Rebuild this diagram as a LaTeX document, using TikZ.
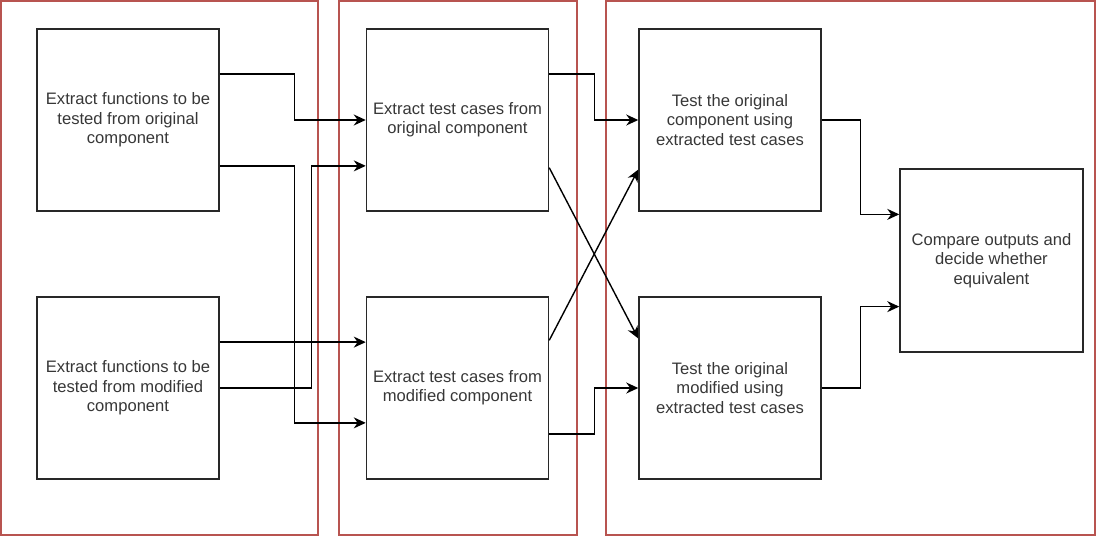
\documentclass[tikz,border=0pt]{standalone}
\usepackage{fontspec}
\setmainfont{Liberation Sans}
\usetikzlibrary{arrows.meta,calc}
\definecolor{framered}{RGB}{184,84,80}
\definecolor{boxline}{RGB}{40,40,40}
\definecolor{boxtext}{RGB}{55,55,55}
\begin{document}
\begin{tikzpicture}[x=1pt,y=-1pt,
	stepbox/.style={draw=boxline,line width=1.5pt,minimum width=182pt,minimum height=182pt,
		inner sep=0pt,align=center,text=boxtext,font=\fontsize{16.6}{19.3}\selectfont},
	arr/.style={draw=black,line width=1.4pt,-{Stealth[length=12pt,width=11pt]}},
	stage/.style={draw=framered,line width=1.2pt}]
	\useasboundingbox (0,0) rectangle (1098,538);

	%stage frames
	\draw[stage] (1,1) rectangle (318,535); %functions
	\draw[stage] (339,1) rectangle (577,535); %test cases
	\draw[stage] (606,1) rectangle (1095,535); %testing

	%boxes
	\node[stepbox] (funcorig) at (128,120) {Extract functions to be\\tested from original\\component};
	\node[stepbox] (funcmod) at (128,388) {Extract functions to be\\tested from modified\\component};
	\node[stepbox] (caseorig) at (457.5,120) {Extract test cases from\\original component};
	\node[stepbox] (casemod) at (457.5,388) {Extract test cases from\\modified component};
	\node[stepbox] (testorig) at (730,120) {Test the original\\component using\\extracted test cases};
	\node[stepbox] (testmod) at (730,388) {Test the original\\modified using\\extracted test cases};
	\node[stepbox,minimum width=183pt,minimum height=183pt] (compare) at (991.5,260.5) {Compare outputs and\\decide whether\\equivalent};

	%functions -> test cases
	\draw[arr] ($(funcorig.north east)!.25!(funcorig.south east)$) -- ++(75,0) |- (caseorig.west);
	\draw[arr] ($(funcorig.north east)!.75!(funcorig.south east)$) -- ++(75,0) |- ($(casemod.north west)!.69!(casemod.south west)$);
	\draw[arr] (funcmod.east) -- ++(92,0) |- ($(caseorig.north west)!.75!(caseorig.south west)$);
	\draw[arr] ($(funcmod.north east)!.25!(funcmod.south east)$) -- ($(casemod.north west)!.25!(casemod.south west)$);

	%test cases -> testing
	\draw[arr] ($(caseorig.north east)!.25!(caseorig.south east)$) -- ++(45,0) |- (testorig.west);
	\draw[arr] ($(caseorig.north east)!.76!(caseorig.south east)$) -- ($(testmod.north west)!.23!(testmod.south west)$); %cross 1
	\draw[arr] ($(casemod.north east)!.24!(casemod.south east)$) -- ($(testorig.north west)!.77!(testorig.south west)$); %cross 2
	\draw[arr] ($(casemod.north east)!.75!(casemod.south east)$) -- ++(45,0) |- (testmod.west);

	%testing -> compare
	\draw[arr] (testorig.east) -- ++(39,0) |- ($(compare.north west)!.25!(compare.south west)$);
	\draw[arr] (testmod.east) -- ++(39,0) |- ($(compare.north west)!.75!(compare.south west)$);
\end{tikzpicture}
\end{document}
